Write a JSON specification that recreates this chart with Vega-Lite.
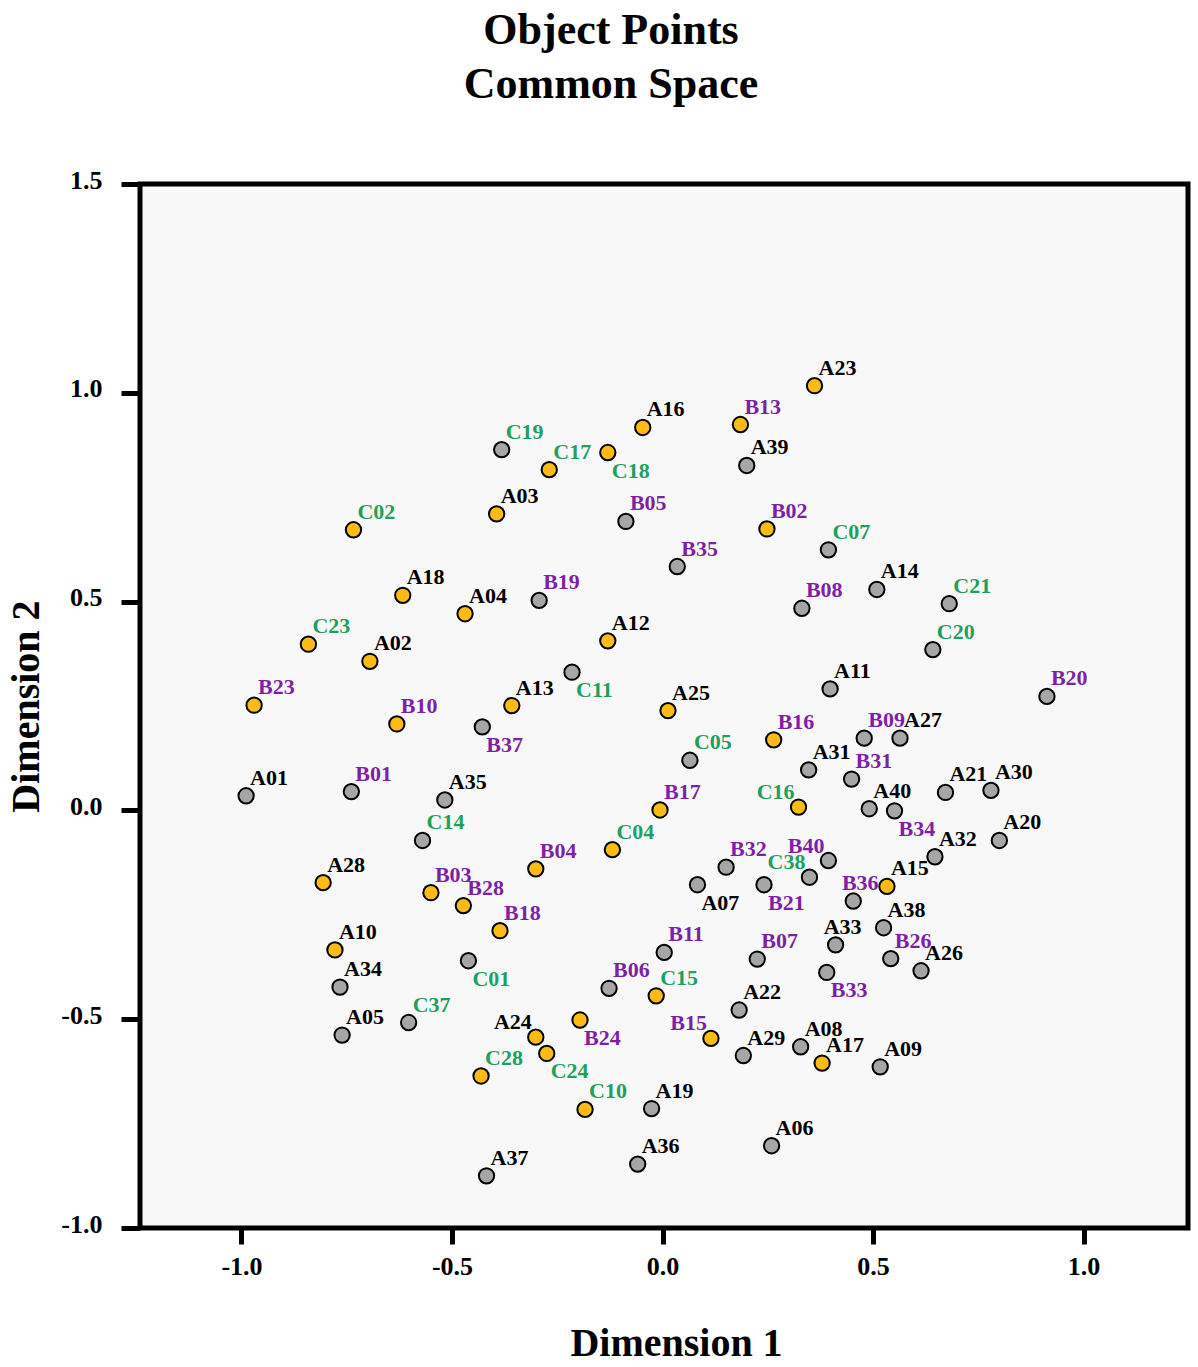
{
  "$schema": "https://vega.github.io/schema/vega-lite/v6.json",
  "width": 1048,
  "height": 1044,
  "autosize": {"type": "none"},
  "padding": {"left": 140, "top": 184, "right": 10, "bottom": 139},
  "background": "white",
  "title": {
    "text": ["Object Points", "Common Space"],
    "font": "Liberation Serif",
    "fontSize": 44,
    "fontWeight": "bold",
    "lineHeight": 54,
    "anchor": "middle",
    "frame": "group",
    "dx": -53,
    "offset": 60,
    "color": "black"
  },
  "config": {
    "view": {"stroke": "black", "strokeWidth": 5, "fill": "#f8f8f8"},
    "axis": {
      "grid": false,
      "domain": false,
      "tickColor": "black",
      "tickWidth": 5,
      "labelFont": "Liberation Serif",
      "labelFontWeight": "bold",
      "labelFontSize": 26,
      "labelColor": "black",
      "labelFlush": false,
      "labelOverlap": false,
      "titleFont": "Liberation Serif",
      "titleFontWeight": "bold",
      "titleFontSize": 40,
      "titleColor": "black"
    }
  },
  "data": {
    "values": [
      {"id": "C02", "set": "C", "cluster": "1", "x": -0.734, "y": 0.672},
      {"id": "A18", "set": "A", "cluster": "1", "x": -0.617, "y": 0.515},
      {"id": "A04", "set": "A", "cluster": "1", "x": -0.469, "y": 0.471},
      {"id": "C19", "set": "C", "cluster": "2", "x": -0.382, "y": 0.864},
      {"id": "C17", "set": "C", "cluster": "1", "x": -0.269, "y": 0.816},
      {"id": "C18", "set": "C", "cluster": "1", "x": -0.130, "y": 0.857},
      {"id": "A16", "set": "A", "cluster": "1", "x": -0.047, "y": 0.917},
      {"id": "B13", "set": "B", "cluster": "1", "x": 0.185, "y": 0.924},
      {"id": "A23", "set": "A", "cluster": "1", "x": 0.361, "y": 1.017},
      {"id": "A39", "set": "A", "cluster": "2", "x": 0.200, "y": 0.826},
      {"id": "A03", "set": "A", "cluster": "1", "x": -0.394, "y": 0.710},
      {"id": "B05", "set": "B", "cluster": "2", "x": -0.087, "y": 0.692},
      {"id": "B02", "set": "B", "cluster": "1", "x": 0.248, "y": 0.674},
      {"id": "C07", "set": "C", "cluster": "2", "x": 0.394, "y": 0.624},
      {"id": "B35", "set": "B", "cluster": "2", "x": 0.035, "y": 0.584},
      {"id": "B19", "set": "B", "cluster": "2", "x": -0.293, "y": 0.503},
      {"id": "B08", "set": "B", "cluster": "2", "x": 0.331, "y": 0.484},
      {"id": "A14", "set": "A", "cluster": "2", "x": 0.509, "y": 0.529},
      {"id": "C21", "set": "C", "cluster": "2", "x": 0.681, "y": 0.495},
      {"id": "C23", "set": "C", "cluster": "1", "x": -0.841, "y": 0.398},
      {"id": "A02", "set": "A", "cluster": "1", "x": -0.695, "y": 0.357},
      {"id": "B23", "set": "B", "cluster": "1", "x": -0.970, "y": 0.252},
      {"id": "B10", "set": "B", "cluster": "1", "x": -0.631, "y": 0.207},
      {"id": "B37", "set": "B", "cluster": "2", "x": -0.428, "y": 0.200},
      {"id": "A01", "set": "A", "cluster": "2", "x": -0.989, "y": 0.035},
      {"id": "B01", "set": "B", "cluster": "2", "x": -0.739, "y": 0.045},
      {"id": "A35", "set": "A", "cluster": "2", "x": -0.517, "y": 0.025},
      {"id": "C14", "set": "C", "cluster": "2", "x": -0.570, "y": -0.072},
      {"id": "A28", "set": "A", "cluster": "1", "x": -0.806, "y": -0.173},
      {"id": "B03", "set": "B", "cluster": "1", "x": -0.550, "y": -0.197},
      {"id": "A12", "set": "A", "cluster": "1", "x": -0.130, "y": 0.406},
      {"id": "C11", "set": "C", "cluster": "2", "x": -0.215, "y": 0.331},
      {"id": "A13", "set": "A", "cluster": "1", "x": -0.358, "y": 0.251},
      {"id": "A25", "set": "A", "cluster": "1", "x": 0.013, "y": 0.239},
      {"id": "A11", "set": "A", "cluster": "2", "x": 0.398, "y": 0.291},
      {"id": "B16", "set": "B", "cluster": "1", "x": 0.264, "y": 0.169},
      {"id": "C05", "set": "C", "cluster": "2", "x": 0.065, "y": 0.120},
      {"id": "A31", "set": "A", "cluster": "2", "x": 0.347, "y": 0.097},
      {"id": "B17", "set": "B", "cluster": "1", "x": -0.006, "y": 0.001},
      {"id": "C16", "set": "C", "cluster": "1", "x": 0.323, "y": 0.008},
      {"id": "C04", "set": "C", "cluster": "1", "x": -0.119, "y": -0.094},
      {"id": "B04", "set": "B", "cluster": "1", "x": -0.301, "y": -0.140},
      {"id": "B32", "set": "B", "cluster": "2", "x": 0.151, "y": -0.136},
      {"id": "B40", "set": "B", "cluster": "2", "x": 0.394, "y": -0.120},
      {"id": "C38", "set": "C", "cluster": "2", "x": 0.349, "y": -0.160},
      {"id": "A07", "set": "A", "cluster": "2", "x": 0.083, "y": -0.178},
      {"id": "B21", "set": "B", "cluster": "2", "x": 0.241, "y": -0.178},
      {"id": "C20", "set": "C", "cluster": "2", "x": 0.642, "y": 0.385},
      {"id": "B20", "set": "B", "cluster": "2", "x": 0.913, "y": 0.273},
      {"id": "B09", "set": "B", "cluster": "2", "x": 0.479, "y": 0.173},
      {"id": "A27", "set": "A", "cluster": "2", "x": 0.564, "y": 0.173},
      {"id": "B31", "set": "B", "cluster": "2", "x": 0.449, "y": 0.075},
      {"id": "A21", "set": "A", "cluster": "2", "x": 0.672, "y": 0.043},
      {"id": "A30", "set": "A", "cluster": "2", "x": 0.780, "y": 0.048},
      {"id": "A40", "set": "A", "cluster": "2", "x": 0.491, "y": 0.004},
      {"id": "B34", "set": "B", "cluster": "2", "x": 0.551, "y": -0.001},
      {"id": "A20", "set": "A", "cluster": "2", "x": 0.800, "y": -0.072},
      {"id": "A32", "set": "A", "cluster": "2", "x": 0.647, "y": -0.111},
      {"id": "A15", "set": "A", "cluster": "1", "x": 0.533, "y": -0.182},
      {"id": "B36", "set": "B", "cluster": "2", "x": 0.453, "y": -0.217},
      {"id": "A38", "set": "A", "cluster": "2", "x": 0.525, "y": -0.281},
      {"id": "B26", "set": "B", "cluster": "2", "x": 0.542, "y": -0.355},
      {"id": "A26", "set": "A", "cluster": "2", "x": 0.614, "y": -0.384},
      {"id": "A33", "set": "A", "cluster": "2", "x": 0.411, "y": -0.322},
      {"id": "B33", "set": "B", "cluster": "2", "x": 0.390, "y": -0.388},
      {"id": "A09", "set": "A", "cluster": "2", "x": 0.517, "y": -0.614},
      {"id": "A10", "set": "A", "cluster": "1", "x": -0.778, "y": -0.334},
      {"id": "A34", "set": "A", "cluster": "2", "x": -0.766, "y": -0.423},
      {"id": "A05", "set": "A", "cluster": "2", "x": -0.761, "y": -0.538},
      {"id": "C37", "set": "C", "cluster": "2", "x": -0.603, "y": -0.508},
      {"id": "C01", "set": "C", "cluster": "2", "x": -0.461, "y": -0.360},
      {"id": "C28", "set": "C", "cluster": "1", "x": -0.431, "y": -0.636},
      {"id": "A37", "set": "A", "cluster": "2", "x": -0.418, "y": -0.875},
      {"id": "B28", "set": "B", "cluster": "1", "x": -0.473, "y": -0.228},
      {"id": "B18", "set": "B", "cluster": "1", "x": -0.386, "y": -0.288},
      {"id": "B11", "set": "B", "cluster": "2", "x": 0.004, "y": -0.340},
      {"id": "B07", "set": "B", "cluster": "2", "x": 0.225, "y": -0.356},
      {"id": "B06", "set": "B", "cluster": "2", "x": -0.127, "y": -0.426},
      {"id": "C15", "set": "C", "cluster": "1", "x": -0.015, "y": -0.444},
      {"id": "A22", "set": "A", "cluster": "2", "x": 0.182, "y": -0.478},
      {"id": "B24", "set": "B", "cluster": "1", "x": -0.196, "y": -0.502},
      {"id": "A24", "set": "A", "cluster": "1", "x": -0.301, "y": -0.543},
      {"id": "C24", "set": "C", "cluster": "1", "x": -0.275, "y": -0.582},
      {"id": "B15", "set": "B", "cluster": "1", "x": 0.115, "y": -0.546},
      {"id": "A29", "set": "A", "cluster": "2", "x": 0.192, "y": -0.587},
      {"id": "A08", "set": "A", "cluster": "2", "x": 0.328, "y": -0.566},
      {"id": "A17", "set": "A", "cluster": "1", "x": 0.379, "y": -0.605},
      {"id": "C10", "set": "C", "cluster": "1", "x": -0.184, "y": -0.716},
      {"id": "A19", "set": "A", "cluster": "2", "x": -0.026, "y": -0.714},
      {"id": "A06", "set": "A", "cluster": "2", "x": 0.259, "y": -0.803},
      {"id": "A36", "set": "A", "cluster": "2", "x": -0.059, "y": -0.847}
    ]
  },
  "encoding": {
    "x": {
      "field": "x",
      "type": "quantitative",
      "scale": {"domain": [-1.241, 1.248], "nice": false, "zero": false},
      "axis": {
        "title": "Dimension 1",
        "values": [-1, -0.5, 0, 0.5, 1],
        "tickSize": 16,
        "labelPadding": 9,
        "titlePadding": 44,
        "titleX": 536,
        "titleAnchor": "middle",
        "labelExpr": "datum.value < 0 ? '-' + format(-datum.value, '.1f') : format(datum.value, '.1f')"
      }
    },
    "y": {
      "field": "y",
      "type": "quantitative",
      "scale": {"domain": [-1, 1.5], "nice": false, "zero": false},
      "axis": {
        "title": "Dimension 2",
        "values": [-1, -0.5, 0, 0.5, 1, 1.5],
        "tickSize": 19,
        "labelPadding": 19,
        "labelOffset": -4,
        "titlePadding": 14,
        "labelExpr": "datum.value < 0 ? '-' + format(-datum.value, '.1f') : format(datum.value, '.1f')"
      }
    }
  },
  "layer": [
    {
      "mark": {"type": "point", "shape": "circle", "filled": true, "size": 235, "stroke": "black", "strokeWidth": 2, "opacity": 1},
      "encoding": {
        "fill": {"field": "cluster", "type": "nominal", "scale": {"domain": ["1", "2"], "range": ["#FDBB14", "#A6A6A6"]}, "legend": null}
      }
    },
    {
      "transform": [{"filter": {"not": {"field": "id", "oneOf": ["C18", "B37", "C11", "A07", "B21", "B33", "B24", "C24", "C01", "B34", "C16", "C38", "B15", "A24", "B40", "B36", "A33"]}}}],
      "mark": {"type": "text", "font": "Liberation Serif", "fontWeight": "bold", "fontSize": 22, "align": "left", "baseline": "alphabetic", "dx": 4, "dy": -11},
      "encoding": {
        "text": {"field": "id"},
        "color": {"field": "set", "type": "nominal", "scale": {"domain": ["A", "B", "C"], "range": ["#000000", "#7F1FA6", "#1FA05E"]}, "legend": null}
      }
    },
    {
      "transform": [{"filter": {"field": "id", "oneOf": ["C18", "B37", "C11", "A07", "B21", "B33", "B24", "C24", "C01", "B34"]}}],
      "mark": {"type": "text", "font": "Liberation Serif", "fontWeight": "bold", "fontSize": 22, "align": "left", "baseline": "alphabetic", "dx": 4, "dy": 25},
      "encoding": {
        "text": {"field": "id"},
        "color": {"field": "set", "type": "nominal", "scale": {"domain": ["A", "B", "C"], "range": ["#000000", "#7F1FA6", "#1FA05E"]}, "legend": null}
      }
    },
    {
      "transform": [{"filter": {"field": "id", "oneOf": ["C16", "C38", "B15", "A24", "B40"]}}],
      "mark": {"type": "text", "font": "Liberation Serif", "fontWeight": "bold", "fontSize": 22, "align": "right", "baseline": "alphabetic", "dx": -4, "dy": -8},
      "encoding": {
        "text": {"field": "id"},
        "color": {"field": "set", "type": "nominal", "scale": {"domain": ["A", "B", "C"], "range": ["#000000", "#7F1FA6", "#1FA05E"]}, "legend": null}
      }
    },
    {
      "transform": [{"filter": {"field": "id", "oneOf": ["B36", "A33"]}}],
      "mark": {"type": "text", "font": "Liberation Serif", "fontWeight": "bold", "fontSize": 22, "align": "center", "baseline": "alphabetic", "dx": 7, "dy": -11},
      "encoding": {
        "text": {"field": "id"},
        "color": {"field": "set", "type": "nominal", "scale": {"domain": ["A", "B", "C"], "range": ["#000000", "#7F1FA6", "#1FA05E"]}, "legend": null}
      }
    }
  ]
}
